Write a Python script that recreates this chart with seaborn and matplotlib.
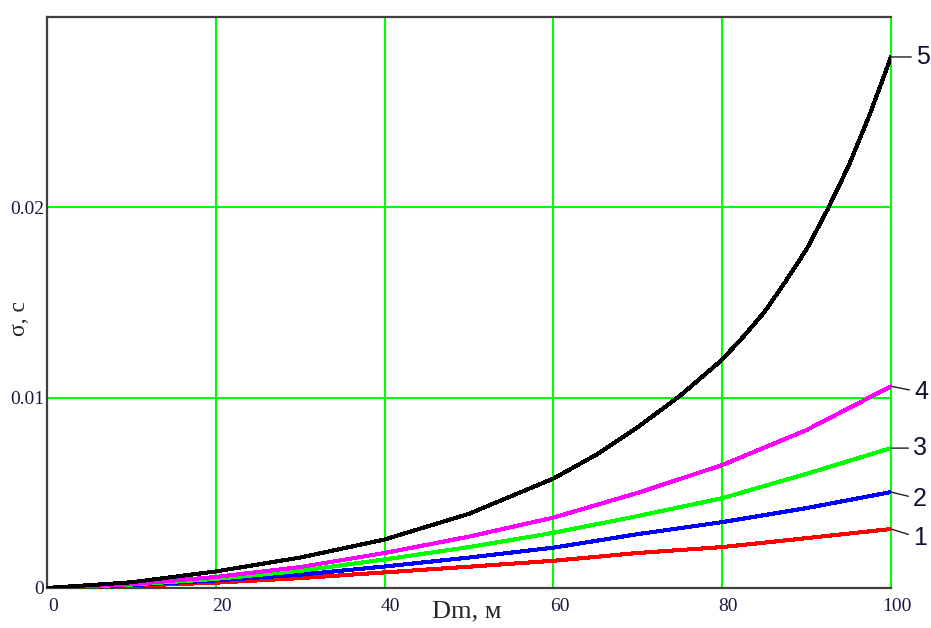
import matplotlib
matplotlib.use("Agg")
import matplotlib.pyplot as plt
import matplotlib.transforms as mtransforms
import seaborn as sns
import pandas as pd

# values
dm = [0, 10, 20, 30, 40, 50, 60, 70, 80, 90, 100]
sigma_1 = [0, 0.00012, 0.00028, 0.00052, 0.00082, 0.00112, 0.00143, 0.00184, 0.00215, 0.00262, 0.0031]
sigma_2 = [0, 0.00015, 0.0004, 0.0007, 0.00113, 0.0016, 0.00212, 0.00283, 0.00346, 0.0042, 0.00504]
sigma_3 = [0, 0.00018, 0.00048, 0.0009, 0.0015, 0.00215, 0.0029, 0.00378, 0.00472, 0.006, 0.00735]
sigma_4 = [0, 0.0002, 0.00058, 0.0011, 0.00184, 0.0027, 0.0037, 0.005, 0.00646, 0.0083, 0.0106]
dm_5 = [0, 10, 20, 30, 40, 50, 60, 65, 70, 75, 80, 82.5, 85, 87.5, 90, 92.5, 95, 97.5, 100]
sigma_5 = [0, 0.0003, 0.00087, 0.0016, 0.00255, 0.0039, 0.00575, 0.00698, 0.00845, 0.0101, 0.012,
           0.0132, 0.0145, 0.0161, 0.0178, 0.0199, 0.0222, 0.0249, 0.0279]

curve_names = ['1', '2', '3', '4', '5']
curve_colors = ['#ff0000', '#0000ff', '#00ff00', '#ff00ff', '#000000']

sns.set_style("white")
plt.rcParams['font.family'] = ['Liberation Serif', 'DejaVu Serif']

fig = plt.figure(figsize=(9.31, 6.28), dpi=100)
ax = fig.add_axes([47/931, 1 - 588/628, 844/931, 571/628])

series = [(dm, sigma_1), (dm, sigma_2), (dm, sigma_3), (dm, sigma_4), (dm_5, sigma_5)]
for (xs, ys), name, col in zip(series, curve_names, curve_colors):
    d = pd.DataFrame({'Dm': xs, 'sigma': ys})
    sns.lineplot(data=d, x='Dm', y='sigma', color=col, lw=2.2, ax=ax,
                 antialiased=False, zorder=3)

ax.set_xlim(0, 100)
ax.set_ylim(0, 0.03)
ax.set_xticks([0, 20, 40, 60, 80, 100])
ax.set_yticks([0, 0.01, 0.02])
ax.set_yticklabels(['0', '0.01', '0.02'])
ax.grid(True, color='#00ff00', lw=1.5)
ax.tick_params(axis='both', length=0, labelsize=14, labelcolor='#1a1a40')
ax.tick_params(axis='x', pad=7)
ax.tick_params(axis='y', pad=2)
offset = mtransforms.ScaledTranslation(6/100, 0, fig.dpi_scale_trans)
for lab in ax.get_xticklabels():
    lab.set_transform(lab.get_transform() + offset)

for side in ['left', 'bottom', 'top']:
    ax.spines[side].set_color('#404040')
    ax.spines[side].set_linewidth(1.6)
ax.spines['right'].set_color('#00ff00')
ax.spines['right'].set_linewidth(1.5)

ax.set_xlabel('Dm, м', fontsize=19)
ax.set_ylabel('σ, с', fontsize=17)
ax.xaxis.set_label_coords(0.497, -0.022)
ax.yaxis.set_label_coords(-0.02, 0.472)

# curve numbers at the right edge
ends = [sigma_1[-1], sigma_2[-1], sigma_3[-1], sigma_4[-1], sigma_5[-1]]
shifts = [(22, -9), (22, -7), (22, 0), (23, -6), (25, 0)]
for name, yv, (dx, dy) in zip(curve_names, ends, shifts):
    ax.annotate(name, xy=(100, yv), xytext=(dx, dy), textcoords='offset pixels',
                ha='left', va='center', fontsize=18, family=['Liberation Sans', 'DejaVu Sans'],
                color='#101030', annotation_clip=False,
                arrowprops=dict(arrowstyle='-', color='#202020', lw=1.0,
                                shrinkA=1, shrinkB=0))

fig.savefig('out.png', dpi=100)
